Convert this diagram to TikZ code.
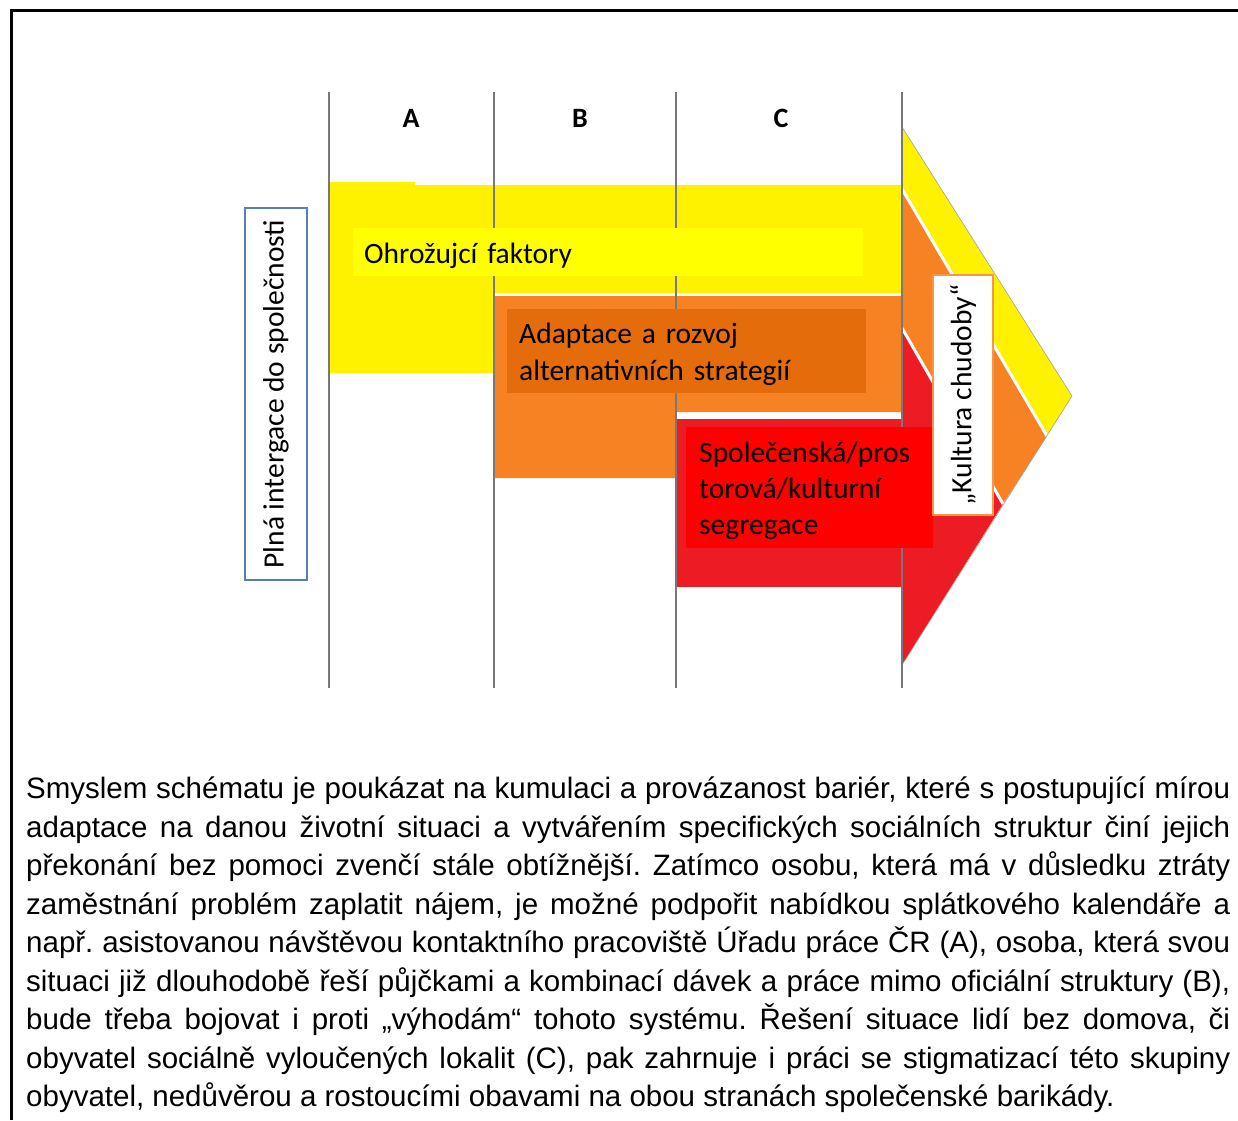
\documentclass[tikz,border=0pt]{standalone}
\usepackage{fontspec}
\setmainfont{Liberation Sans}
\newfontfamily\calibri{Carlito}
\usepackage{xcolor}
\definecolor{band-yellow}{RGB}{255,242,0}
\definecolor{band-orange}{RGB}{246,130,36}
\definecolor{band-red}{RGB}{237,28,36}
\definecolor{box-yellow}{RGB}{255,255,0}
\definecolor{box-orange}{RGB}{228,108,10}
\definecolor{box-red}{RGB}{255,0,0}
\definecolor{frame-blue}{RGB}{88,126,180}
\definecolor{frame-orange}{RGB}{247,150,70}
\definecolor{rule-gray}{RGB}{120,120,120}
\usetikzlibrary{positioning}

\begin{document}
\begin{tikzpicture}[
    x=1pt, y=-1pt,
    every node/.style={inner sep=0pt}
]

\useasboundingbox (0,0) rectangle (1238,1120);

% Page frame
\draw[black, line width=3pt] (11,1120) -- (11,10.5) -- (1238,10.5);

% Bands A, B, C
\fill[band-yellow] (329,182) -- (415,182) -- (415,185) -- (902,185) -- (902,293) -- (494,293) -- (494,373) -- (329,373) -- cycle;
\fill[band-orange] (494,296) -- (902,296) -- (902,412) -- (676,412) -- (676,478) -- (494,478) -- cycle;
\fill[band-red] (676,419) rectangle (902,587);

% Arrow head
\fill[band-yellow] (902,127) -- (1072,396) -- (1047,436) -- (902,189) -- cycle;
\fill[band-orange] (902,189) -- (1047,436) -- (1003,504) -- (902,328) -- cycle;
\fill[band-red] (902,328) -- (1003,504) -- (902,665) -- cycle;
\draw[white, line width=3pt] (902,189) -- (1047,436) (902,328) -- (1003,504);
\draw[rule-gray!70, line width=0.6pt] (902,127) -- (1072,396) -- (902,665);

% Column rules
\foreach \x in {329,494,676,902}
    \draw[rule-gray, line width=1.3pt] (\x,92) -- (\x,688);

% Column letters
\foreach \name/\x in {A/411, B/580, C/781}
    \node[font=\calibri\bfseries\fontsize{28}{28}\selectfont] (col\name) at (\x,118) {\name};

% Stage labels
\node[
    fill=box-yellow,
    anchor=north west,
    text width=488pt,
    inner xsep=11pt,
    minimum height=48pt,
    align=left,
    font=\calibri\fontsize{29.5}{36}\selectfont
] (threats) at (353,228) {\rule{0pt}{27pt}Ohrožujcí faktory};

\node[
    fill=box-orange,
    anchor=north west,
    text width=335pt,
    inner xsep=12pt,
    minimum height=84pt,
    align=left,
    font=\calibri\fontsize{29.5}{37}\selectfont
] (adaptation) at (507,309) {\rule{0pt}{27pt}Adaptace a rozvoj\\alternativních strategií};

\node[
    fill=box-red,
    anchor=north west,
    text width=221pt,
    inner xsep=13pt,
    minimum height=121pt,
    align=left,
    font=\calibri\fontsize{29.5}{36}\selectfont
] (segregation) at (686,427) {\rule{0pt}{26pt}Společenská/pros\\torová/kulturní\\segregace};

% Side labels
\node[
    draw=frame-blue,
    line width=2pt,
    fill=white,
    rotate=90,
    minimum width=372pt,
    minimum height=62pt,
    font=\calibri\fontsize{29.5}{29.5}\selectfont
] (integration) at (276,394) {Plná intergace do společnosti};

\node[
    draw=frame-orange,
    line width=1.5pt,
    fill=white,
    rotate=90,
    minimum width=240pt,
    minimum height=60pt,
    font=\calibri\fontsize{29.5}{29.5}\selectfont
] (poverty) at (963,395) {„Kultura chudoby“};

% Explanation
\node[
    anchor=north west,
    text width=1204pt,
    align=justify,
    font=\fontsize{29.5}{38.5}\selectfont,
    execute at begin node={\frenchspacing\hyphenpenalty=10000\tolerance=10000}
] (caption) at (26,777) {Smyslem schématu je poukázat na kumulaci a provázanost bariér, které s postupující mírou\linebreak
adaptace na danou životní situaci a vytvářením specifických sociálních struktur činí jejich\linebreak
překonání bez pomoci zvenčí stále obtížnější. Zatímco osobu, která má v~důsledku ztráty\linebreak
zaměstnání problém zaplatit nájem, je možné podpořit nabídkou splátkového kalendáře a\linebreak
např. asistovanou návštěvou kontaktního pracoviště Úřadu práce ČR (A), osoba, která svou\linebreak
situaci již dlouhodobě řeší půjčkami a kombinací dávek a práce mimo oficiální struktury (B),\linebreak
bude třeba bojovat i proti „výhodám“ tohoto systému. Řešení situace lidí bez domova, či\linebreak
obyvatel sociálně vyloučených lokalit (C), pak zahrnuje i práci se stigmatizací této skupiny\linebreak
obyvatel, nedůvěrou a rostoucími obavami na obou stranách společenské barikády.};

\end{tikzpicture}
\end{document}
